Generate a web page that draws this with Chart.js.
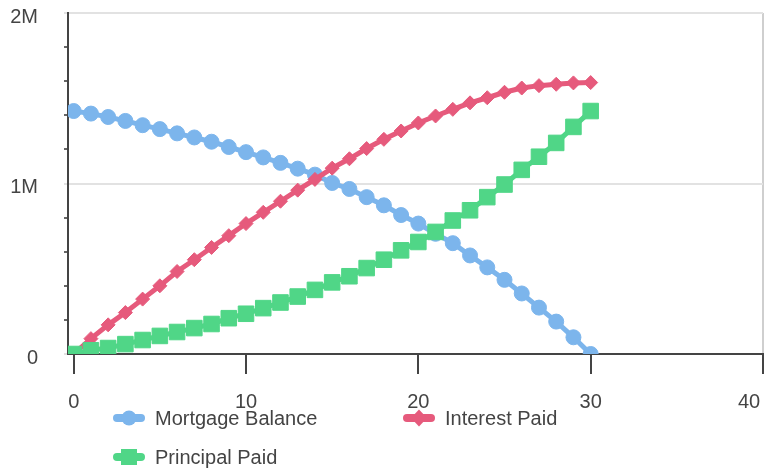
<!DOCTYPE html>
<html>
<head>
<meta charset="utf-8">
<script src="https://cdn.jsdelivr.net/npm/chart.js@4.4.0/dist/chart.umd.min.js"></script>
<style>
  html, body { margin: 0; padding: 0; background: #fff; }
  #wrap { width: 771px; height: 471px; position: relative; }
</style>
</head>
<body>
<div id="wrap"><canvas id="mortgageChart"></canvas></div>
<script>
'use strict'

// years of the loan
var years = [0, 1, 2, 3, 4, 5, 6, 7, 8, 9, 10, 11, 12, 13, 14, 15,
  16, 17, 18, 19, 20, 21, 22, 23, 24, 25, 26, 27, 28, 29, 30];

var balance = [1425000, 1410000, 1390000, 1367000, 1342000, 1319000, 1294000, 1270000,
  1245000, 1214000, 1184000, 1153000, 1121000, 1087000, 1052000, 1003000, 968000,
  920000, 872000, 815000, 765000, 705000, 650000, 578000, 508000, 435000, 355000,
  272000, 190000, 98000, 0];

var interestPaid = [0, 90000, 171000, 243000, 322000, 400000, 484000, 553000, 625000,
  694000, 765000, 831000, 896000, 961000, 1024000, 1090000, 1145000, 1205000, 1259000,
  1308000, 1355000, 1396000, 1435000, 1473000, 1503000, 1535000, 1560000, 1574000,
  1582000, 1590000, 1592000];

var principalPaid = [0, 22000, 35000, 58000, 82000, 106000, 129000, 152000, 176000,
  210000, 236000, 269000, 302000, 337000, 376000, 420000, 456000, 504000, 553000,
  608000, 657000, 716000, 783000, 843000, 920000, 994000, 1080000, 1157000, 1238000,
  1332000, 1425000];

var seriesNames = ['Mortgage Balance', 'Interest Paid', 'Principal Paid'];
var xTicks = [0, 10, 20, 30, 40];
var yTicks = [0, 200000, 400000, 600000, 800000, 1000000, 1200000, 1400000, 1600000, 1800000, 2000000];
var yTickLabels = {0: '0', 1000000: '1M', 2000000: '2M'};

var BLUE = '#7cb5ec', RED = '#e65a7c', GREEN = '#50d687';
var TEXT = '#444';

function toPoints(values) {
  return values.map(function (v, i) { return {x: years[i], y: v}; });
}

// legend laid out in two columns under the chart
var gridLegend = {
  id: 'gridLegend',
  afterDraw: function (chart) {
    var ctx = chart.ctx;
    ctx.save();
    chart.data.datasets.forEach(function (ds, i) {
      var x = 113 + (i % 2) * 290;
      var y = 418 + Math.floor(i / 2) * 39;
      var cx = x + 16;
      ctx.strokeStyle = ds.borderColor;
      ctx.fillStyle = ds.borderColor;
      ctx.lineWidth = 8;
      ctx.lineCap = 'round';
      ctx.beginPath();
      ctx.moveTo(x + 4, y);
      ctx.lineTo(x + 28, y);
      ctx.stroke();
      ctx.beginPath();
      if (ds.pointStyle === 'circle') {
        ctx.arc(cx, y, 7.5, 0, Math.PI * 2);
      } else if (ds.pointStyle === 'rectRot') {
        ctx.moveTo(cx, y - 8.5);
        ctx.lineTo(cx + 8, y);
        ctx.lineTo(cx, y + 8.5);
        ctx.lineTo(cx - 8, y);
        ctx.closePath();
      } else {
        ctx.rect(cx - 8, y - 8, 16, 16);
      }
      ctx.fill();
      ctx.fillStyle = TEXT;
      ctx.font = '20px "Liberation Sans", Arial, sans-serif';
      ctx.textBaseline = 'middle';
      ctx.textAlign = 'left';
      ctx.fillText(ds.label, x + 42, y + 1);
    });
    ctx.restore();
  }
};

function renderChart() {
  Chart.defaults.font.family = '"Liberation Sans", Arial, sans-serif';
  Chart.defaults.font.size = 20;
  Chart.defaults.color = TEXT;

  var ctx = document.getElementById('mortgageChart').getContext('2d');
  var chart = new Chart(ctx, {
    type: 'line',
    data: {
      datasets: [{
        label: seriesNames[0],
        data: toPoints(balance),
        borderColor: BLUE,
        backgroundColor: BLUE,
        borderWidth: 5,
        pointStyle: 'circle',
        pointRadius: 7.5,
        pointBorderWidth: 1,
        order: 3
      }, {
        label: seriesNames[1],
        data: toPoints(interestPaid),
        borderColor: RED,
        backgroundColor: RED,
        borderWidth: 5,
        pointStyle: 'rectRot',
        pointRadius: 7,
        pointBorderWidth: 1,
        order: 2
      }, {
        label: seriesNames[2],
        data: toPoints(principalPaid),
        borderColor: GREEN,
        backgroundColor: GREEN,
        borderWidth: 5,
        pointStyle: 'rect',
        pointRadius: 11,
        pointBorderWidth: 1,
        order: 1
      }]
    },
    options: {
      responsive: true,
      maintainAspectRatio: false,
      animation: false,
      layout: { autoPadding: false, padding: { top: 13, left: 10, right: 8, bottom: 57 } },
      plugins: {
        legend: { display: false },
        tooltip: { enabled: false }
      },
      scales: {
        x: {
          type: 'linear',
          min: -0.33,
          max: 40,
          afterBuildTicks: function (s) { s.ticks = xTicks.map(function (v) { return {value: v}; }); },
          afterFit: function (s) { s.height = 60; s.paddingLeft = 0; s.paddingRight = 0; },
          ticks: {
            padding: 16,
            maxRotation: 0,
            autoSkip: false,
            // last label pushed left so it stays inside the canvas
            callback: function (v) { return v === 40 ? '40     ' : String(v); }
          },
          grid: {
            color: function (c) { return c.tick && c.tick.value === 40 ? '#cfcfcf' : 'transparent'; },
            lineWidth: 2,
            tickLength: 20,
            tickWidth: 2,
            tickColor: '#444'
          },
          border: { color: '#444', width: 2 }
        },
        y: {
          min: 0,
          max: 2000000,
          afterBuildTicks: function (s) { s.ticks = yTicks.map(function (v) { return {value: v}; }); },
          afterFit: function (s) { s.width = 58; s.paddingTop = 0; s.paddingBottom = 0; },
          ticks: {
            padding: 26,
            labelOffset: 4,
            autoSkip: false,
            callback: function (v) { return yTickLabels[v] || ''; }
          },
          grid: {
            color: function (c) { return c.tick && c.tick.value % 1000000 === 0 ? '#e2e2e2' : 'transparent'; },
            lineWidth: 2,
            tickLength: 4,
            tickWidth: 2,
            tickColor: function (c) { return c.tick && c.tick.value % 1000000 === 0 ? '#e2e2e2' : '#666'; }
          },
          border: { color: '#444', width: 2 }
        }
      }
    },
    plugins: [gridLegend]
  });
  return chart;
}

renderChart();
</script>
</body>
</html>
